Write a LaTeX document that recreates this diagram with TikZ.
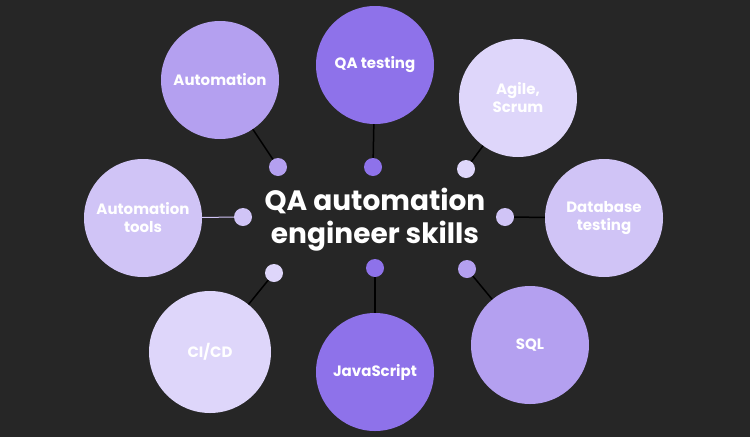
\documentclass[tikz,border=0pt]{standalone}
\usepackage{fontspec}
\setmainfont{Poppins}
\begin{document}
\begin{tikzpicture}[x=1pt,y=-1pt,
  big/.style={circle,minimum size=118pt,inner sep=0pt,align=center,text=white,font=\fontsize{15}{18}\selectfont\bfseries},
  dot/.style={circle,minimum size=18pt,inner sep=0pt},
  conn/.style={draw=black,line width=1.5pt}]
\fill[fill={rgb,255:red,38;green,38;blue,38}] (0,0) rectangle (750,437);
\useasboundingbox (0,0) rectangle (750,437);
\definecolor{cdark}{RGB}{142,114,234}
\definecolor{cmid}{RGB}{180,160,240}
\definecolor{clight}{RGB}{222,214,250}
\definecolor{clight2}{RGB}{208,196,246}
\node[big,fill=cmid] (a) at (220,80) {Automation};
\node[big,fill=cdark] (b) at (375,65) {QA testing};
\node[big,fill=clight,text=white] (c) at (518,98) {Agile,\\Scrum};
\node[big,fill=clight2] (d) at (604,218) {Database\\testing};
\node[big,fill=cmid] (e) at (530,345) {SQL};
\node[big,fill=cdark] (f) at (375,372) {JavaScript};
\node[big,fill=clight,minimum size=122pt] (g) at (210,352) {CI/CD};
\node[big,fill=clight2] (h) at (143,218) {Automation\\tools};
\node[dot,fill=cmid] (da) at (278,167) {};
\node[dot,fill=cdark] (db) at (373,167) {};
\node[dot,fill=clight] (dc) at (466,169) {};
\node[dot,fill=clight2] (dd) at (505,217) {};
\node[dot,fill=cmid] (de) at (467,269) {};
\node[dot,fill=cdark] (df) at (375,268) {};
\node[dot,fill=clight] (dg) at (274,273) {};
\node[dot,fill=clight2] (dh) at (243,217) {};
\foreach \s/\t in {da/a,db/b,dc/c,dd/d,de/e,df/f,dg/g}
  \draw[conn] (\s) -- (\t);
\draw[draw=clight2,line width=1pt] (dh) -- (h);
\node[text=white,align=center,font=\fontsize{28}{33}\selectfont\bfseries] (t) at (375,220) {QA automation\\engineer skills};
\end{tikzpicture}
\end{document}
